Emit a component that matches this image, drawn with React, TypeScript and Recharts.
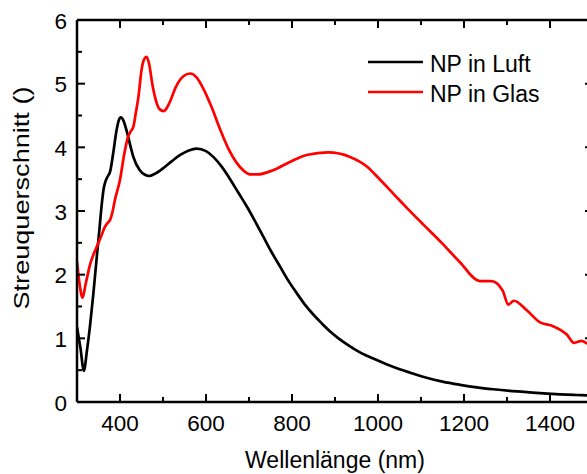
import React from 'react';
import { LineChart, Line, XAxis, YAxis, Legend } from 'recharts';

const luftNm = [300, 308, 316, 323, 330, 338, 346, 352, 357, 362, 367, 372, 377, 384, 392, 397, 402, 408, 415, 425, 431, 446, 458, 468, 480, 500, 520, 540, 560, 578, 600, 617, 636, 656, 675, 695, 714, 733, 752, 772, 791, 811, 830, 850, 870, 888, 908, 927, 958, 997, 1036, 1075, 1113, 1150, 1191, 1230, 1268, 1307, 1346, 1385, 1423, 1460, 1500];
const luftVal = [1.18, 0.85, 0.49, 0.8, 1.18, 1.7, 2.28, 2.7, 3.07, 3.35, 3.48, 3.55, 3.62, 3.9, 4.27, 4.42, 4.47, 4.42, 4.27, 4.0, 3.85, 3.64, 3.57, 3.55, 3.58, 3.67, 3.78, 3.88, 3.95, 3.98, 3.94, 3.85, 3.7, 3.5, 3.29, 3.07, 2.84, 2.6, 2.36, 2.13, 1.91, 1.71, 1.53, 1.37, 1.23, 1.11, 1.0, 0.91, 0.78, 0.66, 0.55, 0.46, 0.38, 0.32, 0.27, 0.23, 0.2, 0.175, 0.155, 0.135, 0.12, 0.11, 0.1];

const glasNm = [300, 306, 313, 320, 330, 346, 356, 365, 372, 377, 383, 388, 400, 410, 419, 425, 431, 437, 443, 450, 456, 462, 468, 475, 483, 492, 502, 515, 530, 548, 563, 578, 594, 612, 633, 652, 671, 688, 702, 720, 756, 795, 834, 884, 935, 974, 1005, 1036, 1067, 1105, 1148, 1190, 1237, 1264, 1290, 1303, 1316, 1346, 1377, 1404, 1439, 1456, 1474, 1487, 1500];
const glasVal = [2.2, 1.85, 1.64, 1.85, 2.15, 2.44, 2.6, 2.75, 2.82, 2.86, 3.0, 3.17, 3.49, 3.9, 4.17, 4.25, 4.32, 4.55, 4.8, 5.21, 5.38, 5.42, 5.3, 5.0, 4.75, 4.6, 4.57, 4.7, 4.95, 5.12, 5.16, 5.1, 4.92, 4.65, 4.28, 3.98, 3.76, 3.63, 3.575, 3.575, 3.64, 3.77, 3.88, 3.92, 3.85, 3.7, 3.49, 3.27, 3.05, 2.79, 2.5, 2.2, 1.9, 1.9, 1.75, 1.53, 1.59, 1.44, 1.25, 1.2, 1.06, 0.93, 0.96, 0.92, 0.95];

const xTicks = [400, 500, 600, 700, 800, 900, 1000, 1100, 1200, 1300, 1400, 1500];
const xLabelTicks = [400, 600, 800, 1000, 1200, 1400];
const yTicks = [0, 0.5, 1, 1.5, 2, 2.5, 3, 3.5, 4, 4.5, 5, 5.5, 6];
const yLabelTicks = [0, 1, 2, 3, 4, 5, 6];
const seriesNames = ['NP in Luft', 'NP in Glas'];
const seriesColors = ['#000000', '#ff0000'];
const xTitle = 'Wellenlänge (nm)';
const yTitle = 'Streuquerschnitt ()';

const luftData = luftNm.map((nm, i) => ({ nm, v: luftVal[i] }));
const glasData = glasNm.map((nm, i) => ({ nm, v: glasVal[i] }));

const FONT = '"Liberation Sans", Arial, Helvetica, sans-serif';
const MAJOR = 8;
const MINOR = 5;

const BottomTick = (props: any) => {
  const { x, y, payload } = props;
  const major = xLabelTicks.includes(payload.value);
  return (
    <g>
      <line x1={x} x2={x} y1={y} y2={y - (major ? MAJOR : MINOR)} stroke="#000" strokeWidth={2} />
      {major && (
        <text x={x} y={y + 29} textAnchor="middle" fontSize={22.5} fontFamily={FONT} fill="#000">
          {payload.value}
        </text>
      )}
    </g>
  );
};

const TopTick = (props: any) => {
  const { x, y, payload } = props;
  const major = xLabelTicks.includes(payload.value);
  return <line x1={x} x2={x} y1={y} y2={y + (major ? MAJOR : MINOR)} stroke="#000" strokeWidth={2} />;
};

const LeftTick = (props: any) => {
  const { x, y, payload } = props;
  const major = yLabelTicks.includes(payload.value);
  return (
    <g>
      <line x1={x} x2={x + (major ? MAJOR : MINOR)} y1={y} y2={y} stroke="#000" strokeWidth={2} />
      {major && (
        <text x={x - 10} y={y + 8.5} textAnchor="end" fontSize={22.5} fontFamily={FONT} fill="#000">
          {payload.value}
        </text>
      )}
    </g>
  );
};

const RightTick = (props: any) => {
  const { x, y, payload } = props;
  const major = yLabelTicks.includes(payload.value);
  return <line x1={x} x2={x - (major ? MAJOR : MINOR)} y1={y} y2={y} stroke="#000" strokeWidth={2} />;
};

const XTitle = (props: any) => {
  const vb = props.viewBox || { x: 77, y: 402, width: 516, height: 72 };
  return (
    <text x={vb.x + vb.width / 2} y={vb.y + 66} textAnchor="middle" fontSize={23} fontFamily={FONT} fill="#000">
      {xTitle}
    </text>
  );
};

const YTitle = (props: any) => {
  const vb = props.viewBox || { x: 0, y: 20, width: 77, height: 382 };
  const cx = vb.x + 29;
  const cy = vb.y + vb.height / 2 - 13;
  return (
    <text
      x={cx}
      y={cy}
      transform={`rotate(-90 ${cx} ${cy})`}
      textAnchor="middle"
      fontSize={22}
      fontFamily={FONT}
      fill="#000"
      textLength={223}
      lengthAdjust="spacingAndGlyphs"
    >
      {yTitle}
    </text>
  );
};

const LegendContent = () => (
  <svg width={200} height={70} style={{ display: 'block' }}>
    {seriesNames.map((name, i) => (
      <g key={name}>
        <line x1={8} x2={63} y1={22 + i * 30} y2={22 + i * 30} stroke={seriesColors[i]} strokeWidth={2.7} />
        <text x={70} y={32 + i * 30} fontSize={23} fontFamily={FONT} fill="#000">
          {name}
        </text>
      </g>
    ))}
  </svg>
);

export default function App() {
  return (
    <div style={{ position: 'absolute', left: 0, top: 0, width: 587, height: 474, overflow: 'hidden', background: '#fff' }}>
      <LineChart width={600} height={474} margin={{ top: 0, right: 0, bottom: 0, left: 0 }}>
        <XAxis
          xAxisId="b"
          type="number"
          dataKey="nm"
          domain={[300, 1500]}
          allowDataOverflow
          ticks={xTicks}
          interval={0}
          tickSize={0}
          tickMargin={0}
          tickLine={false}
          axisLine={{ stroke: '#000', strokeWidth: 2.5 }}
          tick={BottomTick}
          height={72}
          label={{ content: XTitle }}
        />
        <XAxis
          xAxisId="t"
          orientation="top"
          type="number"
          dataKey="nm"
          domain={[300, 1500]}
          allowDataOverflow
          ticks={xTicks}
          interval={0}
          tickSize={0}
          tickMargin={0}
          tickLine={false}
          axisLine={{ stroke: '#000', strokeWidth: 2.5 }}
          tick={TopTick}
          height={20}
        />
        <YAxis
          yAxisId="l"
          type="number"
          domain={[0, 6]}
          allowDataOverflow
          ticks={yTicks}
          interval={0}
          tickSize={0}
          tickMargin={0}
          tickLine={false}
          axisLine={{ stroke: '#000', strokeWidth: 2.5 }}
          tick={LeftTick}
          width={77}
          label={{ content: YTitle }}
        />
        <YAxis
          yAxisId="r"
          orientation="right"
          type="number"
          domain={[0, 6]}
          allowDataOverflow
          ticks={yTicks}
          interval={0}
          tickSize={0}
          tickMargin={0}
          tickLine={false}
          axisLine={{ stroke: '#000', strokeWidth: 2.5 }}
          tick={RightTick}
          width={7}
        />
        <Legend
          layout="vertical"
          align="center"
          verticalAlign="middle"
          content={LegendContent}
          wrapperStyle={{ left: 360, top: 40, width: 200, height: 70 }}
        />
        <Line
          xAxisId="b"
          yAxisId="l"
          data={luftData}
          dataKey="v"
          name={seriesNames[0]}
          type="monotone"
          stroke={seriesColors[0]}
          strokeWidth={2.7}
          dot={false}
          activeDot={false}
          isAnimationActive={false}
        />
        <Line
          xAxisId="b"
          yAxisId="l"
          data={glasData}
          dataKey="v"
          name={seriesNames[1]}
          type="monotone"
          stroke={seriesColors[1]}
          strokeWidth={2.7}
          dot={false}
          activeDot={false}
          isAnimationActive={false}
        />
      </LineChart>
    </div>
  );
}
